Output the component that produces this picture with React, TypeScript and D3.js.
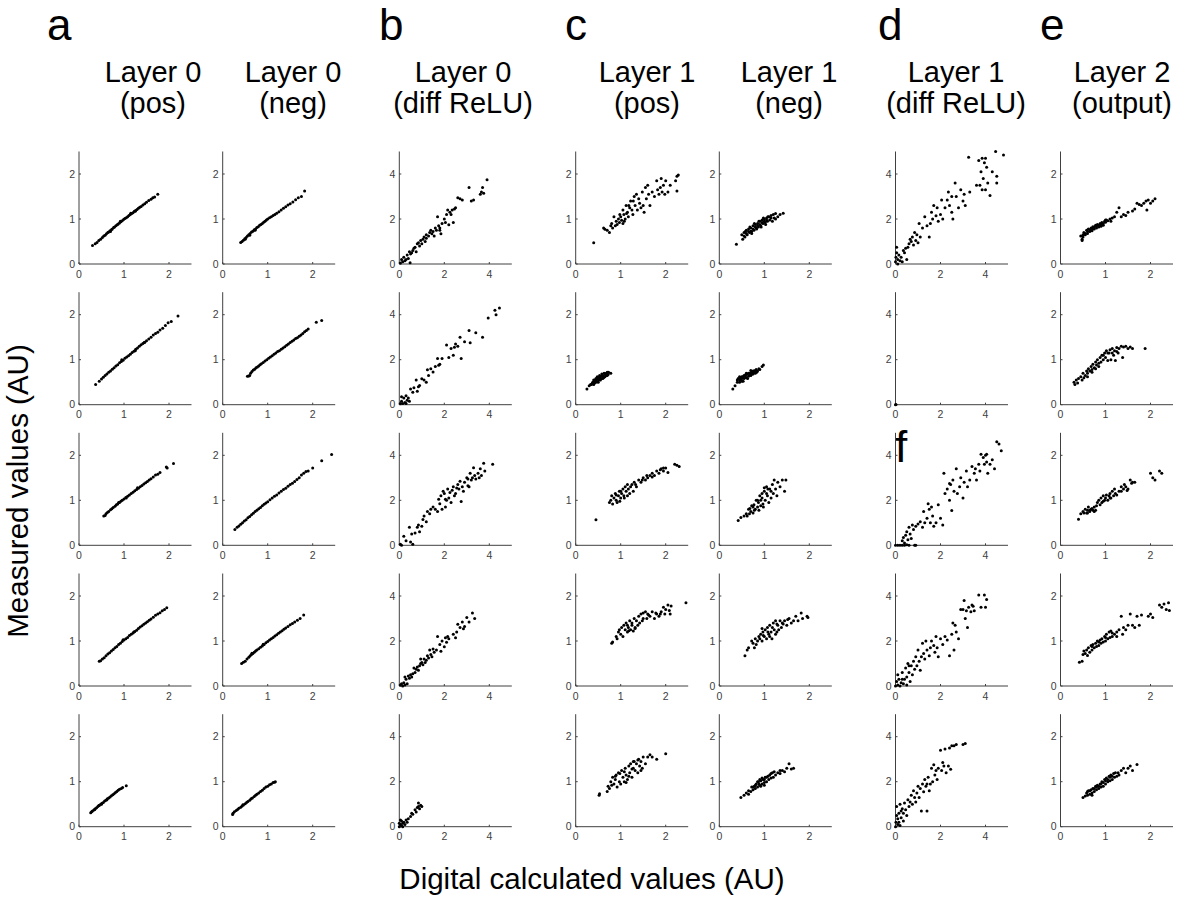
import * as d3 from 'd3'

type Pt = [number, number]

const columnTitles = [
  ['Layer 0', '(pos)'], ['Layer 0', '(neg)'], ['Layer 0', '(diff ReLU)'],
  ['Layer 1', '(pos)'], ['Layer 1', '(neg)'], ['Layer 1', '(diff ReLU)'],
  ['Layer 2', '(output)'],
]
const columnMax = [2.5, 2.5, 5, 2.5, 2.5, 5, 2.5]
const smallTicks = [0, 1, 2]
const largeTicks = [0, 2, 4]
const panelLetters = ['a', 'b', 'c', 'd', 'e', 'f']
const yLabel = 'Measured values (AU)'
const xLabel = 'Digital calculated values (AU)'

const layer0Pos: Pt[][] = [
  [[0.30,0.41],[0.36,0.45],[0.40,0.48],[0.44,0.52],[0.48,0.55],[0.52,0.59],[0.55,0.62],[0.58,0.64],[0.61,0.67],[0.64,0.70],[0.66,0.71],[0.69,0.74],[0.72,0.76],[0.74,0.78],[0.77,0.81],[0.79,0.82],[0.82,0.85],[0.85,0.87],[0.87,0.89],[0.90,0.91],[0.93,0.94],[0.96,0.96],[0.99,0.99],[1.02,1.01],[1.05,1.03],[1.08,1.05],[1.11,1.08],[1.14,1.10],[1.17,1.12],[1.20,1.14],[1.23,1.17],[1.26,1.19],[1.29,1.21],[1.32,1.24],[1.35,1.26],[1.38,1.28],[1.42,1.31],[1.46,1.34],[1.50,1.37],[1.55,1.41],[1.60,1.44],[1.64,1.47],[1.68,1.49],[1.75,1.55],[0.70,0.72],[0.92,0.95],[1.15,1.13],[1.25,1.17]],
  [[0.37,0.45],[0.45,0.52],[0.5,0.57],[0.54,0.61],[0.58,0.65],[0.62,0.68],[0.66,0.72],[0.7,0.75],[0.74,0.79],[0.78,0.82],[0.82,0.86],[0.86,0.89],[0.9,0.93],[0.94,0.96],[0.98,0.99],[1.02,1.03],[1.06,1.06],[1.1,1.09],[1.14,1.12],[1.18,1.16],[1.22,1.19],[1.26,1.23],[1.3,1.26],[1.34,1.3],[1.38,1.33],[1.42,1.36],[1.46,1.39],[1.5,1.42],[1.55,1.46],[1.6,1.5],[1.65,1.55],[1.7,1.58],[1.75,1.61],[1.8,1.66],[1.86,1.7],[1.92,1.76],[1.98,1.82],[2.05,1.85],[2.2,1.97],[0.95,1.0],[1.25,1.2],[1.45,1.38]],
  [[0.55,0.65],[0.58,0.66],[0.6,0.7],[0.63,0.73],[0.66,0.75],[0.7,0.79],[0.73,0.81],[0.76,0.84],[0.8,0.87],[0.83,0.9],[0.86,0.92],[0.9,0.95],[0.93,0.98],[0.96,1.0],[1.0,1.03],[1.04,1.06],[1.08,1.09],[1.12,1.12],[1.16,1.15],[1.2,1.18],[1.24,1.21],[1.28,1.24],[1.32,1.27],[1.36,1.3],[1.4,1.33],[1.44,1.36],[1.48,1.39],[1.52,1.42],[1.56,1.45],[1.6,1.48],[1.65,1.52],[1.7,1.56],[1.75,1.58],[1.8,1.62],[1.94,1.74],[1.96,1.72],[2.1,1.82],[1.05,1.05],[1.3,1.28],[0.88,0.95]],
  [[0.45,0.55],[0.48,0.56],[0.52,0.6],[0.56,0.63],[0.6,0.67],[0.64,0.71],[0.68,0.74],[0.72,0.78],[0.76,0.81],[0.8,0.85],[0.84,0.88],[0.88,0.92],[0.92,0.95],[0.96,0.99],[1.0,1.02],[1.04,1.05],[1.08,1.08],[1.12,1.12],[1.16,1.15],[1.2,1.18],[1.24,1.21],[1.28,1.24],[1.32,1.28],[1.36,1.31],[1.4,1.34],[1.44,1.37],[1.48,1.4],[1.52,1.43],[1.56,1.46],[1.6,1.49],[1.65,1.53],[1.7,1.57],[1.75,1.6],[1.8,1.63],[1.85,1.67],[1.9,1.7],[1.95,1.74],[0.98,1.03],[1.22,1.2]],
  [[0.26,0.31],[0.28,0.33],[0.3,0.35],[0.33,0.37],[0.36,0.4],[0.39,0.42],[0.42,0.45],[0.45,0.47],[0.48,0.5],[0.51,0.52],[0.54,0.54],[0.57,0.57],[0.6,0.59],[0.63,0.62],[0.66,0.64],[0.69,0.66],[0.72,0.69],[0.75,0.71],[0.78,0.73],[0.81,0.76],[0.84,0.78],[0.87,0.81],[0.9,0.83],[0.94,0.85],[0.97,0.87],[1.05,0.91],[0.35,0.38],[0.5,0.5],[0.62,0.6],[0.44,0.47]],
]

const layer0Neg: Pt[][] = [
  [[0.4,0.48],[0.43,0.5],[0.46,0.53],[0.49,0.56],[0.52,0.59],[0.55,0.62],[0.58,0.65],[0.61,0.68],[0.64,0.71],[0.67,0.73],[0.7,0.76],[0.73,0.78],[0.76,0.81],[0.79,0.83],[0.82,0.86],[0.85,0.88],[0.88,0.9],[0.91,0.93],[0.94,0.95],[0.97,0.98],[1.0,1.0],[1.04,1.03],[1.08,1.05],[1.12,1.08],[1.16,1.1],[1.2,1.13],[1.25,1.16],[1.3,1.2],[1.35,1.24],[1.4,1.27],[1.45,1.31],[1.5,1.34],[1.56,1.38],[1.62,1.43],[1.68,1.47],[1.75,1.5],[1.82,1.62],[0.5,0.55],[0.6,0.64],[0.72,0.75]],
  [[0.55,0.63],[0.58,0.64],[0.6,0.65],[0.62,0.7],[0.65,0.74],[0.68,0.77],[0.71,0.79],[0.74,0.82],[0.77,0.84],[0.8,0.86],[0.83,0.89],[0.86,0.91],[0.9,0.94],[0.94,0.97],[0.98,1.0],[1.02,1.03],[1.06,1.06],[1.1,1.09],[1.14,1.12],[1.18,1.15],[1.22,1.18],[1.26,1.2],[1.3,1.23],[1.34,1.26],[1.38,1.29],[1.42,1.32],[1.46,1.35],[1.5,1.38],[1.54,1.41],[1.58,1.44],[1.62,1.47],[1.66,1.49],[1.7,1.52],[1.74,1.55],[1.78,1.58],[1.82,1.62],[1.86,1.65],[1.9,1.68],[2.08,1.83],[2.2,1.87]],
  [[0.27,0.35],[0.32,0.4],[0.36,0.43],[0.4,0.47],[0.44,0.5],[0.48,0.54],[0.52,0.57],[0.56,0.61],[0.6,0.64],[0.64,0.68],[0.68,0.71],[0.72,0.75],[0.76,0.78],[0.8,0.81],[0.84,0.84],[0.88,0.88],[0.92,0.91],[0.96,0.94],[1.0,0.97],[1.05,1.01],[1.1,1.05],[1.15,1.09],[1.2,1.12],[1.25,1.16],[1.3,1.2],[1.35,1.24],[1.4,1.27],[1.45,1.31],[1.5,1.35],[1.55,1.38],[1.6,1.42],[1.65,1.46],[1.7,1.5],[1.75,1.56],[1.8,1.6],[1.85,1.64],[1.9,1.65],[2.0,1.72],[2.2,1.88],[2.42,2.02]],
  [[0.42,0.5],[0.46,0.53],[0.5,0.55],[0.54,0.6],[0.58,0.64],[0.61,0.67],[0.64,0.7],[0.67,0.72],[0.7,0.75],[0.73,0.78],[0.76,0.8],[0.8,0.83],[0.84,0.86],[0.88,0.89],[0.92,0.92],[0.96,0.96],[1.0,0.99],[1.04,1.02],[1.08,1.05],[1.12,1.08],[1.16,1.11],[1.2,1.14],[1.24,1.17],[1.28,1.2],[1.32,1.23],[1.36,1.26],[1.4,1.29],[1.45,1.32],[1.5,1.36],[1.55,1.39],[1.6,1.42],[1.66,1.46],[1.72,1.5],[1.8,1.58],[0.65,0.73],[0.9,0.93]],
  [[0.22,0.27],[0.23,0.3],[0.26,0.33],[0.3,0.36],[0.33,0.38],[0.36,0.41],[0.4,0.43],[0.43,0.46],[0.46,0.48],[0.5,0.51],[0.53,0.54],[0.56,0.56],[0.6,0.59],[0.63,0.62],[0.66,0.64],[0.7,0.67],[0.73,0.7],[0.76,0.72],[0.8,0.75],[0.84,0.78],[0.88,0.81],[0.92,0.85],[0.96,0.88],[1.0,0.9],[1.04,0.93],[1.08,0.95],[1.12,0.98],[1.17,1.0],[1.15,0.99],[0.45,0.49]],
]

const layer0Diff: Pt[][] = [
  [[0.05,0.05],[0.1,0.2],[0.15,0.1],[0.2,0.3],[0.3,0.2],[0.35,0.4],[0.4,0.25],[0.45,0.55],[0.48,0.06],[0.6,0.6],[0.7,0.75],[0.75,0.55],[0.8,0.9],[0.9,0.8],[0.95,1.05],[1.0,0.9],[1.1,1.2],[1.15,1.0],[1.2,1.15],[1.3,1.25],[1.4,1.5],[1.45,1.35],[1.5,1.45],[1.55,1.25],[1.6,1.6],[1.7,2.1],[1.75,1.7],[1.8,1.5],[1.85,1.35],[1.9,1.8],[2.0,2.0],[2.05,1.85],[2.1,2.2],[2.15,2.4],[2.2,1.75],[2.25,2.3],[2.35,2.4],[2.4,1.85],[2.5,2.5],[2.6,2.95],[2.7,2.9],[2.8,2.85],[3.1,3.4],[3.2,2.8],[3.3,2.85],[3.6,3.1],[3.65,3.2],[3.7,3.4],[3.75,3.15],[3.9,3.75],[1.2,1.3],[1.35,1.4],[0.85,0.95],[0.65,0.7],[0.55,0.5],[1.05,1.1],[1.65,1.5],[1.8,1.6],[2.3,2.2],[2.45,2.45],[0.25,0.15],[0.5,0.45]],
  [[0.05,0.05],[0.1,0.15],[0.15,0.05],[0.2,0.3],[0.25,0.1],[0.3,0.4],[0.35,0.2],[0.4,0.3],[0.45,0.15],[0.1,0.35],[0.3,0.05],[0.5,0.7],[0.6,0.55],[0.65,0.75],[0.8,0.6],[0.85,0.8],[0.75,1.1],[0.9,0.85],[1.0,1.15],[1.1,1.1],[1.2,1.0],[1.25,1.55],[1.3,1.3],[1.4,1.6],[1.5,1.45],[1.6,1.7],[1.7,2.05],[1.75,1.75],[1.8,1.8],[1.9,2.05],[2.1,2.65],[2.2,2.1],[2.3,2.5],[2.4,2.2],[2.45,2.55],[2.5,2.7],[2.6,2.6],[2.7,3.0],[2.75,2.05],[2.9,2.8],[3.1,3.3],[3.15,2.75],[3.4,3.2],[3.7,3.0],[3.95,3.85],[4.25,4.2],[4.3,4.0],[4.45,4.3]],
  [[0.05,0.05],[0.1,0.0],[0.2,0.4],[0.3,0.2],[0.45,0.8],[0.5,0.15],[0.55,0.5],[0.6,0.05],[0.7,0.55],[0.8,0.8],[0.85,0.9],[0.9,0.6],[1.0,0.85],[1.05,1.15],[1.1,1.3],[1.2,1.05],[1.25,1.5],[1.35,1.4],[1.4,1.6],[1.5,1.7],[1.6,1.6],[1.7,1.5],[1.75,2.05],[1.8,1.85],[1.85,2.2],[1.9,1.6],[2.0,2.3],[2.05,1.7],[2.1,2.0],[2.15,2.5],[2.2,2.1],[2.3,1.9],[2.35,2.45],[2.4,2.6],[2.5,2.3],[2.6,2.7],[2.65,2.5],[2.7,2.85],[2.75,1.95],[2.8,2.6],[2.9,2.8],[3.0,3.0],[3.05,2.65],[3.1,2.6],[3.15,3.2],[3.2,2.9],[3.3,3.45],[3.35,3.1],[3.4,2.95],[3.5,3.2],[3.6,3.4],[3.65,3.1],[3.75,3.65],[3.8,3.3],[4.15,3.6],[1.95,2.4],[2.05,2.05],[2.25,2.35],[2.45,2.2],[2.55,2.55],[2.85,2.4],[3.05,2.95],[3.25,3.0],[3.55,3.0]],
  [[0.05,0.05],[0.1,0.1],[0.15,0.0],[0.2,0.15],[0.25,0.05],[0.3,0.3],[0.35,0.1],[0.4,0.45],[0.45,0.35],[0.5,0.5],[0.55,0.4],[0.6,0.55],[0.7,0.6],[0.75,0.75],[0.8,0.85],[0.85,0.7],[0.9,0.9],[0.95,1.0],[1.0,1.05],[1.05,0.95],[1.1,1.2],[1.15,1.05],[1.2,1.15],[1.25,1.35],[1.3,1.25],[1.4,1.4],[1.45,1.3],[1.5,1.65],[1.55,1.5],[1.65,1.6],[1.7,2.2],[1.8,1.85],[1.85,1.55],[1.9,2.0],[2.0,1.75],[2.05,2.15],[2.1,1.95],[2.15,2.2],[2.2,2.1],[2.4,2.3],[2.5,2.15],[2.55,2.4],[2.7,2.6],[2.8,2.85],[2.85,2.55],[3.0,3.05],[3.1,2.85],[3.25,3.25],[3.35,3.0],[0.95,1.2],[1.35,1.6],[0.65,0.8],[0.25,0.4],[2.6,2.75],[2.9,2.65]],
  [[0.0,0.0],[0.05,0.1],[0.1,0.05],[0.15,0.15],[0.2,0.2],[0.1,0.25],[0.25,0.1],[0.3,0.3],[0.35,0.2],[0.4,0.35],[0.5,0.45],[0.55,0.6],[0.6,0.55],[0.7,0.75],[0.75,0.65],[0.8,0.85],[0.85,0.9],[0.9,0.8],[0.95,0.95],[0.85,1.05],[1.0,0.9],[0.05,0.3],[0.0,0.15],[0.15,0.0]],
]

const layer1Pos: Pt[][] = [
  [[0.4,0.47],[0.62,0.8],[0.65,0.77],[0.7,0.75],[0.75,0.7],[0.78,0.85],[0.8,0.9],[0.82,0.8],[0.85,1.05],[0.88,0.85],[0.9,0.95],[0.92,0.88],[0.95,1.0],[0.97,0.92],[1.0,1.05],[1.02,0.97],[1.05,1.2],[1.07,1.1],[1.1,1.0],[1.12,1.3],[1.15,1.15],[1.17,1.05],[1.2,1.25],[1.22,1.4],[1.25,1.2],[1.27,1.1],[1.3,1.5],[1.32,1.3],[1.35,1.55],[1.37,1.2],[1.4,1.45],[1.42,1.35],[1.45,1.25],[1.48,1.6],[1.5,1.3],[1.52,1.15],[1.55,1.7],[1.57,1.45],[1.6,1.75],[1.62,1.55],[1.65,1.3],[1.7,1.6],[1.75,1.5],[1.8,1.85],[1.82,1.65],[1.85,1.55],[1.88,1.7],[1.9,1.9],[1.92,1.6],[1.95,1.75],[1.98,1.55],[2.0,1.85],[2.05,1.6],[2.1,1.75],[2.25,1.95],[2.28,1.98],[2.25,1.62],[2.22,1.85],[1.08,0.95],[1.18,1.3],[1.28,1.4],[1.13,1.12],[0.98,1.1],[1.05,0.9]],
  [[0.25,0.35],[0.3,0.42],[0.35,0.45],[0.38,0.5],[0.4,0.55],[0.42,0.48],[0.45,0.58],[0.47,0.52],[0.5,0.6],[0.52,0.55],[0.55,0.62],[0.57,0.58],[0.6,0.65],[0.62,0.6],[0.65,0.68],[0.68,0.65],[0.7,0.72],[0.72,0.67],[0.78,0.7],[0.4,0.45],[0.45,0.5],[0.5,0.5],[0.55,0.55],[0.6,0.58],[0.65,0.62],[0.7,0.65],[0.48,0.62],[0.53,0.65],[0.58,0.68],[0.63,0.7],[0.43,0.55],[0.37,0.48],[0.33,0.45],[0.68,0.7],[0.73,0.72],[0.62,0.63],[0.52,0.6],[0.47,0.57],[0.57,0.63],[0.42,0.52]],
  [[0.45,0.57],[0.75,0.95],[0.78,1.0],[0.8,1.1],[0.82,0.92],[0.85,1.05],[0.88,1.15],[0.9,1.0],[0.92,0.95],[0.95,1.1],[0.97,1.2],[1.0,1.05],[1.02,1.15],[1.05,1.25],[1.07,1.1],[1.1,1.3],[1.12,1.2],[1.15,1.35],[1.17,1.25],[1.2,1.15],[1.22,1.3],[1.25,1.35],[1.28,1.2],[1.3,1.4],[1.35,1.3],[1.4,1.45],[1.45,1.4],[1.5,1.5],[1.55,1.45],[1.6,1.5],[1.65,1.55],[1.7,1.6],[1.75,1.55],[1.8,1.65],[1.85,1.6],[1.9,1.7],[1.95,1.65],[2.0,1.72],[2.05,1.62],[2.2,1.8],[2.3,1.75],[2.25,1.78],[1.0,1.2],[0.98,0.98],[1.15,1.1],[1.33,1.35],[1.48,1.45],[1.58,1.55],[1.7,1.52],[1.88,1.68],[1.95,1.72],[1.08,1.05],[0.9,1.12]],
  [[0.8,0.95],[0.82,0.98],[0.9,1.1],[0.92,1.05],[0.95,1.2],[0.97,1.25],[1.0,1.15],[1.02,1.3],[1.05,1.1],[1.07,1.35],[1.1,1.25],[1.12,1.4],[1.15,1.2],[1.17,1.3],[1.2,1.45],[1.22,1.25],[1.25,1.35],[1.28,1.22],[1.3,1.5],[1.32,1.3],[1.35,1.45],[1.38,1.35],[1.4,1.55],[1.42,1.4],[1.45,1.6],[1.48,1.45],[1.5,1.5],[1.55,1.65],[1.58,1.5],[1.6,1.6],[1.65,1.55],[1.7,1.65],[1.75,1.5],[1.8,1.6],[1.85,1.55],[1.9,1.65],[1.95,1.75],[2.0,1.7],[2.05,1.8],[2.1,1.6],[2.12,1.78],[2.45,1.85],[1.15,1.35],[1.25,1.4],[1.5,1.62],[1.62,1.58],[1.78,1.62],[1.88,1.6],[1.98,1.6],[2.08,1.68],[1.18,1.23],[1.32,1.28]],
  [[0.52,0.7],[0.53,0.73],[0.7,0.78],[0.72,0.9],[0.75,0.85],[0.78,1.0],[0.8,0.92],[0.82,1.1],[0.85,0.95],[0.88,1.05],[0.9,1.15],[0.92,0.88],[0.95,1.2],[0.97,1.0],[1.0,0.95],[1.02,1.25],[1.05,1.1],[1.08,1.0],[1.1,1.3],[1.12,1.15],[1.15,1.05],[1.18,1.35],[1.2,1.2],[1.22,1.4],[1.25,1.1],[1.28,1.3],[1.3,1.45],[1.32,1.25],[1.35,1.4],[1.38,1.2],[1.4,1.5],[1.42,1.35],[1.45,1.45],[1.48,1.3],[1.5,1.55],[1.55,1.4],[1.6,1.55],[1.65,1.6],[1.7,1.55],[1.8,1.5],[2.0,1.62],[0.98,1.18],[1.08,1.22],[1.18,1.12],[1.28,1.45],[1.38,1.48],[0.88,1.12],[1.12,0.98],[1.25,1.28],[1.45,1.25]],
]

const layer1Neg: Pt[][] = [
  [[0.38,0.44],[0.5,0.65],[0.52,0.55],[0.55,0.7],[0.57,0.6],[0.6,0.75],[0.62,0.65],[0.65,0.78],[0.67,0.7],[0.7,0.8],[0.72,0.72],[0.75,0.85],[0.77,0.75],[0.8,0.88],[0.82,0.8],[0.85,0.9],[0.87,0.82],[0.9,0.95],[0.92,0.85],[0.95,0.98],[0.97,0.9],[1.0,1.0],[1.02,0.92],[1.05,1.02],[1.07,0.95],[1.1,1.05],[1.12,0.98],[1.15,1.08],[1.18,0.95],[1.2,1.1],[1.22,1.02],[1.25,1.12],[1.3,1.05],[1.35,1.1],[1.42,1.13],[0.6,0.68],[0.7,0.73],[0.8,0.82],[0.9,0.88],[1.0,0.95],[0.65,0.72],[0.75,0.78],[0.85,0.85],[0.95,0.92],[1.05,0.98],[0.55,0.62],[1.15,1.02],[0.78,0.9],[0.88,0.95],[0.98,1.02],[0.68,0.82],[0.58,0.72],[1.25,1.0],[1.08,1.05],[0.72,0.68],[0.83,0.78],[0.93,0.82],[1.03,0.88]],
  [[0.3,0.35],[0.35,0.42],[0.4,0.5],[0.42,0.58],[0.45,0.55],[0.47,0.6],[0.5,0.52],[0.52,0.62],[0.55,0.58],[0.57,0.65],[0.6,0.6],[0.62,0.68],[0.65,0.63],[0.67,0.7],[0.7,0.65],[0.72,0.72],[0.75,0.68],[0.77,0.75],[0.8,0.7],[0.82,0.78],[0.85,0.75],[0.88,0.8],[0.9,0.78],[0.95,0.85],[0.98,0.88],[0.45,0.5],[0.5,0.58],[0.55,0.65],[0.6,0.67],[0.65,0.7],[0.7,0.7],[0.75,0.75],[0.8,0.76],[0.48,0.55],[0.58,0.62],[0.68,0.67],[0.78,0.72],[0.53,0.52],[0.63,0.58],[0.73,0.68],[0.83,0.72],[0.5,0.62],[0.6,0.7],[0.7,0.76],[0.4,0.55],[0.45,0.62]],
  [[0.42,0.55],[0.48,0.62],[0.55,0.65],[0.6,0.7],[0.62,0.65],[0.65,0.8],[0.67,0.7],[0.7,0.75],[0.72,0.88],[0.75,0.72],[0.77,0.9],[0.8,0.8],[0.82,1.0],[0.85,0.85],[0.87,0.95],[0.9,1.1],[0.92,0.88],[0.95,1.05],[0.97,0.92],[1.0,1.2],[1.02,1.0],[1.05,1.3],[1.07,1.1],[1.1,0.95],[1.12,1.25],[1.15,1.05],[1.18,1.35],[1.2,1.15],[1.22,1.45],[1.25,1.25],[1.28,1.1],[1.3,1.4],[1.35,1.3],[1.4,1.45],[1.45,1.2],[1.48,1.45],[0.75,0.85],[0.85,1.0],[0.95,1.15],[1.05,1.15],[0.88,0.78],[0.98,0.85],[1.08,1.25],[0.78,0.78],[0.68,0.82],[1.15,1.2],[1.0,1.28],[0.92,1.0]],
  [[0.57,0.67],[0.62,0.8],[0.65,0.85],[0.72,1.0],[0.75,0.95],[0.78,0.85],[0.8,1.05],[0.82,0.92],[0.85,1.0],[0.88,1.1],[0.9,1.05],[0.92,1.15],[0.95,1.0],[0.97,1.2],[1.0,1.1],[1.02,1.25],[1.05,1.05],[1.07,1.3],[1.1,1.15],[1.12,1.35],[1.15,1.2],[1.17,1.05],[1.2,1.4],[1.22,1.25],[1.25,1.45],[1.28,1.2],[1.3,1.35],[1.35,1.45],[1.38,1.3],[1.4,1.4],[1.45,1.45],[1.5,1.35],[1.55,1.5],[1.6,1.4],[1.65,1.45],[1.7,1.55],[1.75,1.45],[1.82,1.62],[1.85,1.5],[1.95,1.55],[1.97,1.52],[1.08,1.2],[1.18,1.3],[1.28,1.38],[0.98,1.12],[1.12,1.1],[1.32,1.25],[1.42,1.38],[1.52,1.48],[0.95,1.28],[1.25,1.15]],
  [[0.48,0.65],[0.55,0.7],[0.6,0.75],[0.65,0.8],[0.7,0.78],[0.72,0.88],[0.75,0.82],[0.78,0.9],[0.8,0.85],[0.82,0.95],[0.85,0.88],[0.87,1.0],[0.9,0.92],[0.92,1.02],[0.95,0.95],[0.97,1.05],[1.0,0.98],[1.02,1.1],[1.05,1.0],[1.08,1.12],[1.1,1.05],[1.12,1.15],[1.15,1.08],[1.18,1.2],[1.2,1.1],[1.25,1.15],[1.3,1.2],[1.35,1.18],[1.4,1.25],[1.45,1.22],[1.5,1.3],[1.55,1.4],[1.6,1.28],[1.65,1.3],[0.85,1.0],[0.9,1.05],[0.95,1.08],[1.0,1.05],[1.05,1.1],[0.8,0.92],[0.75,0.88],[1.15,1.18],[1.0,0.92],[0.88,0.95],[1.22,1.22],[0.65,0.72],[1.35,1.25],[0.92,0.9]],
]

const layer1Diff: Pt[][] = [
  [[0.0,0.1],[0.02,0.3],[0.05,0.5],[0.05,0.75],[0.1,0.2],[0.1,0.0],[0.15,0.4],[0.2,0.15],[0.25,0.3],[0.3,0.1],[0.35,0.6],[0.4,0.5],[0.45,0.7],[0.5,0.2],[0.55,0.75],[0.6,0.9],[0.65,1.1],[0.7,1.0],[0.75,1.2],[0.8,0.85],[0.85,1.4],[0.9,1.05],[0.95,1.3],[1.0,0.95],[1.05,1.8],[1.1,1.2],[1.2,1.6],[1.3,2.1],[1.4,1.7],[1.5,1.2],[1.55,1.8],[1.6,2.3],[1.65,2.0],[1.7,2.6],[1.8,2.15],[1.85,2.5],[1.9,1.9],[2.0,2.2],[2.05,2.85],[2.1,2.0],[2.2,2.5],[2.3,2.85],[2.35,3.2],[2.4,2.6],[2.5,2.3],[2.5,3.0],[2.55,2.0],[2.65,3.6],[2.7,3.0],[2.8,2.5],[2.9,3.3],[3.0,2.8],[3.05,3.1],[3.1,2.6],[3.3,3.2],[3.25,4.75],[3.7,4.6],[3.75,3.5],[3.8,4.1],[3.85,4.7],[3.9,3.8],[3.95,4.5],[4.0,3.3],[4.05,4.3],[4.1,3.6],[4.2,3.05],[4.3,4.1],[4.45,5.0],[4.5,3.9],[4.5,3.6],[4.8,4.85],[3.85,3.3],[4.0,4.7],[3.6,3.5]],
  [[0.0,0.0],[0.02,0.01]],
  [[0.0,0.0],[0.1,0.0],[0.2,0.0],[0.3,0.0],[0.4,0.0],[0.5,0.02],[0.6,0.0],[0.85,0.0],[0.9,0.0],[0.3,0.2],[0.35,0.35],[0.4,0.1],[0.45,0.45],[0.5,0.6],[0.55,0.25],[0.6,0.8],[0.65,0.5],[0.7,0.3],[0.75,0.9],[0.8,0.7],[0.9,0.85],[1.0,0.95],[1.1,1.05],[1.2,0.8],[1.25,1.5],[1.3,1.0],[1.4,1.2],[1.45,1.85],[1.5,1.6],[1.55,1.0],[1.6,1.7],[1.65,1.3],[1.7,0.85],[1.8,1.0],[2.0,1.2],[2.1,0.9],[2.15,3.2],[2.2,2.3],[2.3,2.5],[2.4,2.0],[2.45,2.7],[2.5,1.55],[2.55,2.9],[2.6,2.4],[2.7,3.4],[2.75,2.3],[2.85,2.6],[2.9,3.0],[3.0,2.1],[3.05,2.8],[3.15,3.3],[3.2,2.6],[3.3,2.9],[3.4,3.5],[3.5,3.2],[3.6,2.9],[3.7,3.6],[3.75,3.3],[3.8,4.05],[3.9,3.9],[4.0,4.0],[4.05,3.7],[4.1,3.2],[4.2,3.6],[4.3,3.8],[4.4,3.4],[4.5,4.6],[4.6,4.5],[4.7,4.2],[3.95,3.6],[2.4,2.75],[1.9,1.8],[3.55,3.4],[4.05,4.05]],
  [[0.0,0.0],[0.05,0.2],[0.1,0.05],[0.1,0.5],[0.15,0.3],[0.2,0.0],[0.25,0.15],[0.3,0.6],[0.35,0.1],[0.4,0.3],[0.45,0.8],[0.5,0.4],[0.5,0.05],[0.55,1.0],[0.6,0.6],[0.65,0.2],[0.7,0.9],[0.75,0.5],[0.8,1.1],[0.85,0.75],[0.9,1.3],[0.95,0.9],[1.0,1.6],[1.05,1.1],[1.1,0.7],[1.15,1.3],[1.2,1.9],[1.25,1.45],[1.3,1.2],[1.35,2.0],[1.4,1.6],[1.5,1.35],[1.55,1.7],[1.6,2.0],[1.7,1.8],[1.75,1.5],[1.8,2.2],[1.85,1.7],[1.9,1.3],[2.0,2.1],[2.1,1.85],[2.2,2.2],[2.3,2.05],[2.4,1.35],[2.5,2.3],[2.6,1.6],[2.7,2.4],[2.8,2.1],[2.55,2.8],[2.65,2.7],[2.9,3.4],[3.0,3.4],[3.05,3.8],[3.1,3.0],[3.15,3.35],[3.2,2.6],[3.25,3.5],[3.35,3.3],[3.4,3.6],[3.5,3.35],[3.7,4.05],[3.8,3.5],[3.95,4.05],[4.0,3.5],[4.05,3.85],[3.45,3.55],[0.3,0.3],[0.6,0.9]],
  [[0.0,0.0],[0.02,0.2],[0.05,0.5],[0.05,0.9],[0.1,0.1],[0.1,0.35],[0.15,0.6],[0.15,0.2],[0.2,0.05],[0.2,1.0],[0.25,0.4],[0.3,0.8],[0.35,0.6],[0.4,1.05],[0.45,0.75],[0.5,0.5],[0.55,1.2],[0.6,0.9],[0.65,1.1],[0.7,1.4],[0.75,1.0],[0.8,1.6],[0.85,1.3],[0.9,1.1],[0.95,1.5],[1.0,1.8],[1.05,1.3],[1.1,1.7],[1.15,0.7],[1.2,1.9],[1.25,1.55],[1.3,2.1],[1.35,1.8],[1.4,0.7],[1.45,2.2],[1.5,1.6],[1.55,1.9],[1.6,2.6],[1.65,2.0],[1.7,2.75],[1.75,2.3],[1.8,2.5],[1.85,2.1],[1.9,2.6],[2.0,3.4],[2.05,2.5],[2.1,2.85],[2.15,2.7],[2.2,3.45],[2.25,2.4],[2.35,2.7],[2.4,3.5],[2.45,2.55],[2.5,3.6],[2.6,3.6],[2.7,3.65],[3.0,3.65],[3.1,3.7],[1.4,1.9],[0.35,0.25],[0.25,0.7]],
]

const layer2Out: Pt[][] = [
  [[0.45,0.62],[0.48,0.55],[0.5,0.65],[0.52,0.7],[0.55,0.68],[0.58,0.75],[0.6,0.72],[0.62,0.78],[0.65,0.76],[0.68,0.8],[0.7,0.78],[0.72,0.83],[0.75,0.82],[0.78,0.86],[0.8,0.84],[0.82,0.88],[0.85,0.86],[0.88,0.9],[0.9,0.88],[0.92,0.92],[0.95,0.9],[0.98,0.95],[1.0,0.93],[1.02,0.98],[1.05,0.96],[1.1,1.0],[1.12,0.95],[1.15,1.02],[1.2,1.05],[1.25,1.15],[1.3,1.25],[1.35,1.05],[1.4,1.1],[1.45,1.08],[1.5,1.15],[1.6,1.18],[1.65,1.22],[1.7,1.35],[1.75,1.32],[1.8,1.3],[1.85,1.35],[1.9,1.4],[1.92,1.2],[1.95,1.42],[2.0,1.35],[2.05,1.4],[2.1,1.45],[0.5,0.6],[0.55,0.65],[0.65,0.72],[0.75,0.78],[0.85,0.82],[0.95,0.86],[0.7,0.74],[0.8,0.8],[0.9,0.84],[1.0,0.98],[0.6,0.68],[0.48,0.52]],
  [[0.3,0.5],[0.32,0.45],[0.35,0.55],[0.38,0.48],[0.4,0.58],[0.45,0.62],[0.48,0.55],[0.5,0.7],[0.55,0.65],[0.58,0.75],[0.6,0.7],[0.62,0.8],[0.65,0.75],[0.68,0.85],[0.7,0.78],[0.72,0.9],[0.75,0.82],[0.78,0.95],[0.8,0.88],[0.82,1.0],[0.85,0.92],[0.88,1.05],[0.9,0.95],[0.92,1.1],[0.95,1.0],[0.98,1.15],[1.0,1.05],[1.02,1.2],[1.05,0.98],[1.08,1.15],[1.1,1.22],[1.12,1.0],[1.15,1.25],[1.18,1.1],[1.2,1.2],[1.22,0.98],[1.25,1.27],[1.28,1.15],[1.3,1.25],[1.35,1.3],[1.38,1.05],[1.4,1.28],[1.45,1.3],[1.5,1.25],[1.55,1.28],[1.6,1.25],[1.88,1.25],[0.7,0.72],[0.6,0.62],[0.85,0.85],[0.95,1.1],[1.05,1.15],[1.15,1.15],[1.25,1.18],[0.52,0.6],[0.78,0.8]],
  [[0.4,0.58],[0.45,0.7],[0.5,0.75],[0.52,0.72],[0.55,0.8],[0.58,0.72],[0.6,0.78],[0.62,0.85],[0.65,0.75],[0.68,0.8],[0.7,0.82],[0.72,0.78],[0.75,0.85],[0.78,0.78],[0.8,0.88],[0.82,0.95],[0.85,1.0],[0.88,0.9],[0.9,1.05],[0.92,0.95],[0.95,1.1],[0.98,1.0],[1.0,1.05],[1.02,1.12],[1.05,1.0],[1.08,1.1],[1.1,1.15],[1.12,1.05],[1.15,1.2],[1.18,1.1],[1.2,1.25],[1.22,1.15],[1.25,1.12],[1.3,1.2],[1.35,1.3],[1.4,1.25],[1.45,1.3],[1.5,1.25],[1.55,1.45],[1.6,1.4],[1.65,1.4],[2.0,1.6],[2.05,1.5],[2.1,1.45],[2.2,1.65],[2.25,1.6],[1.1,1.05],[0.95,0.98],[0.75,0.75],[0.65,0.78],[1.35,1.2],[1.42,1.35],[1.58,1.38],[1.48,1.22],[0.6,0.72]],
  [[0.42,0.53],[0.48,0.55],[0.5,0.7],[0.52,0.78],[0.55,0.72],[0.58,0.8],[0.6,0.68],[0.62,0.85],[0.65,0.75],[0.68,0.9],[0.7,0.8],[0.72,0.92],[0.75,0.85],[0.78,0.95],[0.8,0.88],[0.82,1.0],[0.85,0.9],[0.88,1.02],[0.9,0.95],[0.92,1.05],[0.95,0.98],[0.98,1.1],[1.0,1.0],[1.02,1.15],[1.05,1.05],[1.08,1.2],[1.1,1.08],[1.12,1.22],[1.15,1.1],[1.2,1.15],[1.25,1.2],[1.3,1.25],[1.35,1.55],[1.38,1.15],[1.4,1.3],[1.45,1.25],[1.5,1.35],[1.55,1.6],[1.6,1.35],[1.65,1.3],[1.7,1.55],[1.75,1.35],[1.8,1.58],[1.95,1.55],[2.0,1.6],[2.05,1.52],[2.2,1.8],[2.25,1.75],[2.3,1.82],[2.35,1.7],[2.4,1.85],[2.42,1.68],[1.0,1.08],[0.85,0.98],[1.15,1.18],[0.7,0.88],[1.25,1.1]],
  [[0.5,0.65],[0.55,0.68],[0.58,0.75],[0.6,0.7],[0.62,0.8],[0.65,0.72],[0.68,0.82],[0.7,0.75],[0.72,0.85],[0.75,0.78],[0.78,0.9],[0.8,0.82],[0.82,0.92],[0.85,0.85],[0.88,0.95],[0.9,0.88],[0.92,1.0],[0.95,0.9],[0.98,1.05],[1.0,0.95],[1.02,1.08],[1.05,1.0],[1.08,1.12],[1.1,1.02],[1.12,1.15],[1.15,1.05],[1.18,1.18],[1.2,1.1],[1.22,1.2],[1.25,1.12],[1.28,1.2],[1.3,1.15],[1.35,1.25],[1.4,1.3],[1.45,1.2],[1.5,1.3],[1.55,1.35],[1.6,1.25],[1.7,1.38],[0.7,0.7],[0.8,0.88],[0.9,0.95],[1.0,1.02],[1.1,1.1],[0.65,0.8],[0.75,0.85],[0.85,0.9],[0.95,0.98],[1.05,1.05],[1.15,1.12],[0.6,0.78]],
]

const columnsData = [layer0Pos, layer0Neg, layer0Diff, layer1Pos, layer1Neg, layer1Diff, layer2Out]

const FONT = "'Liberation Sans', Arial, Helvetica, sans-serif"

export default function App() {
  const W = 1185
  const H = 903
  const colLeft = [79, 222.7, 399.3, 575.7, 719.3, 895.5, 1060.5]
  const rowBottom = [264, 404.7, 545.3, 686, 826.7]
  const size = 112.5
  const titleX = [153, 293, 463, 647, 789, 956, 1122]
  const letterPos: Array<[number, number]> = [[47, 40], [379, 40], [565, 40], [878, 40], [1040, 40], [895, 462]]
  const axisColor = '#404040'

  return (
    <svg width={W} height={H} style={{ position: 'absolute', left: 0, top: 0, background: '#fff' }} fontFamily={FONT}>
      <rect width={W} height={H} fill="#fff" />
      {panelLetters.map((t, i) => (
        <text key={t} x={letterPos[i][0]} y={letterPos[i][1]} fontSize={44} fill="#000">{t}</text>
      ))}
      {columnTitles.map((lines, c) => (
        <text key={c} textAnchor="middle" fontSize={29} fill="#000">
          <tspan x={titleX[c]} y={82}>{lines[0]}</tspan>
          <tspan x={titleX[c]} y={113}>{lines[1]}</tspan>
        </text>
      ))}
      {columnsData.map((rows, c) => rows.map((pts, r) => {
        const max = columnMax[c]
        const ticks = max > 3 ? largeTicks : smallTicks
        const x = d3.scaleLinear().domain([0, max]).range([colLeft[c], colLeft[c] + size])
        const y = d3.scaleLinear().domain([0, max]).range([rowBottom[r], rowBottom[r] - size])
        const x0 = colLeft[c]
        const y0 = rowBottom[r]
        return (
          <g key={`${c}-${r}`}>
            <line x1={x0} x2={x0 + size} y1={y0} y2={y0} stroke={axisColor} strokeWidth={1} />
            <line x1={x0} x2={x0} y1={y0} y2={y0 - size} stroke={axisColor} strokeWidth={1} />
            {ticks.map(t => (
              <g key={t}>
                <line x1={x(t)} x2={x(t)} y1={y0} y2={y0 - 2} stroke={axisColor} />
                <line x1={x0} x2={x0 + 2} y1={y(t)} y2={y(t)} stroke={axisColor} />
                <text x={x(t)} y={y0 + 13.5} textAnchor="middle" fontSize={10.5} fill="#404040">{t}</text>
                <text x={x0 - 4} y={y(t)} dy="0.35em" textAnchor="end" fontSize={10.5} fill="#404040">{t}</text>
              </g>
            ))}
            {pts.map((p, i) => (
              <circle key={i} cx={x(p[0])} cy={y(p[1])} r={1.5} fill="#000" />
            ))}
          </g>
        )
      }))}
      <text transform="translate(28,491) rotate(-90)" textAnchor="middle" fontSize={29.5} fill="#000">{yLabel}</text>
      <text x={592} y={889} textAnchor="middle" fontSize={29.5} fill="#000">{xLabel}</text>
    </svg>
  )
}
